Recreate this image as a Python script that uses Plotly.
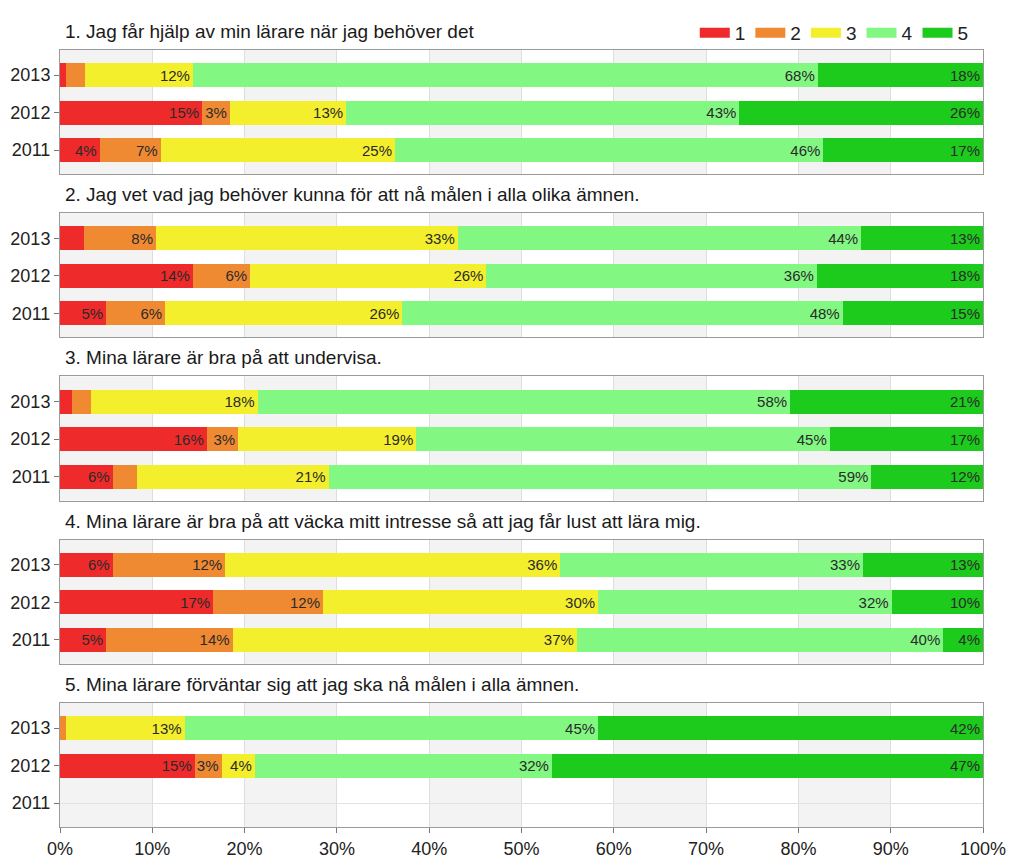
import plotly.graph_objects as go
from plotly.subplots import make_subplots

years = ["2013", "2012", "2011"]
levels = ["1", "2", "3", "4", "5"]
titles = [
    "1. Jag får hjälp av min lärare när jag behöver det",
    "2. Jag vet vad jag behöver kunna för att nå målen i alla olika ämnen.",
    "3. Mina lärare är bra på att undervisa.",
    "4. Mina lärare är bra på att väcka mitt intresse så att jag får lust att lära mig.",
    "5. Mina lärare förväntar sig att jag ska nå målen i alla ämnen.",
]
x_ticks = [0, 10, 20, 30, 40, 50, 60, 70, 80, 90, 100]
x_tick_labels = ["0%", "10%", "20%", "30%", "40%", "50%", "60%", "70%", "80%", "90%", "100%"]

# values per level (1..5), each list is [2013, 2012, 2011]
q1 = [[0.7, 15.4, 4.3], [2.0, 3.0, 6.6], [11.7, 12.6, 25.4], [67.7, 42.6, 46.4], [17.9, 26.4, 17.3]]
q2 = [[2.6, 14.4, 5.0], [7.8, 6.2, 6.4], [32.7, 25.6, 25.7], [43.7, 35.8, 47.7], [13.2, 18.0, 15.2]]
q3 = [[1.3, 15.9, 5.7], [2.1, 3.4, 2.6], [18.0, 19.3, 20.8], [57.7, 44.8, 58.8], [20.9, 16.6, 12.1]]
q4 = [[5.7, 16.6, 5.0], [12.2, 11.9, 13.7], [36.3, 29.8, 37.3], [32.8, 31.8, 39.7], [13.0, 9.9, 4.3]]
q5 = [[0.0, 14.6, 0.0], [0.7, 2.9, 0.0], [12.8, 3.6, 0.0], [44.8, 32.2, 0.0], [41.7, 46.7, 0.0]]
questions = [q1, q2, q3, q4, q5]

colors = ["#ee2a2a", "#f08a32", "#f4ef2c", "#82f882", "#1ccb1c"]

n = len(questions)
fig = make_subplots(rows=n, cols=1, vertical_spacing=0.0505)

for r, q in enumerate(questions, start=1):
    for li, lvl in enumerate(levels):
        vals = q[li]
        txt = [f"{round(v)}%" if v >= 2.8 else "" for v in vals]
        fig.add_trace(
            go.Bar(
                y=years, x=vals, orientation="h", name=lvl,
                marker=dict(color=colors[li], line=dict(width=0)),
                text=txt, textposition="inside", insidetextanchor="end",
                textfont=dict(size=15, color="#2a2a2a"),
                showlegend=False, legendgroup=lvl,
                hoverinfo="skip",
            ),
            row=r, col=1,
        )

# legend entries drawn as wide colour swatches
for li, lvl in enumerate(levels):
    fig.add_trace(
        go.Scatter(
            x=[None], y=[None], mode="lines", name=lvl, legendgroup=lvl,
            line=dict(color=colors[li], width=11), showlegend=True,
            hoverinfo="skip",
        ),
        row=1, col=1,
    )

shapes = []
annotations = []
for r in range(1, n + 1):
    sfx = "" if r == 1 else str(r)
    for i in range(0, len(x_ticks) - 1, 2):
        shapes.append(dict(
            type="rect", xref="x" + sfx, yref="y" + sfx + " domain",
            x0=x_ticks[i], x1=x_ticks[i + 1], y0=0, y1=1,
            fillcolor="#f3f3f3", line=dict(width=0), layer="below",
        ))
    fig.update_xaxes(
        range=[0, 100], tickvals=x_ticks, ticktext=x_tick_labels,
        showgrid=True, gridcolor="#dedede", gridwidth=1,
        showline=True, linecolor="#9a9a9a", mirror=True,
        showticklabels=(r == n), ticks="outside" if r == n else "",
        ticklen=5, tickcolor="#777", zeroline=False, automargin=False,
        tickfont=dict(size=18, color="#222"),
        row=r, col=1,
    )
    fig.update_yaxes(
        categoryorder="array", categoryarray=years[::-1],
        range=[-0.64, 2.67], automargin=False,
        showgrid=True, gridcolor="#e2e2e2",
        showline=True, linecolor="#9a9a9a", mirror=True,
        ticks="outside", ticklen=5, tickcolor="#777",
        tickfont=dict(size=18, color="#222"),
        row=r, col=1,
    )
    dom = fig.layout["yaxis" + sfx].domain
    annotations.append(dict(
        text=titles[r - 1], xref="paper", yref="paper",
        x=0.003, y=dom[1] + 6 / 777, xanchor="left", yanchor="bottom",
        showarrow=False, font=dict(size=19, color="#1a1a1a"),
    ))

fig.update_layout(
    width=1024, height=867,
    margin=dict(l=52, r=49, t=42, b=48, autoexpand=False),
    barmode="stack", bargap=0.36,
    plot_bgcolor="white", paper_bgcolor="white",
    font=dict(family="Liberation Sans, Arial, sans-serif", color="#222"),
    uniformtext=dict(minsize=15, mode="show"),
    shapes=shapes, annotations=annotations,
    legend=dict(
        orientation="h", x=0.99, xanchor="right", y=1.022, yanchor="middle",
        font=dict(size=19), traceorder="normal", itemwidth=30,
        bgcolor="rgba(0,0,0,0)",
    ),
)

fig.write_html("out.html")
